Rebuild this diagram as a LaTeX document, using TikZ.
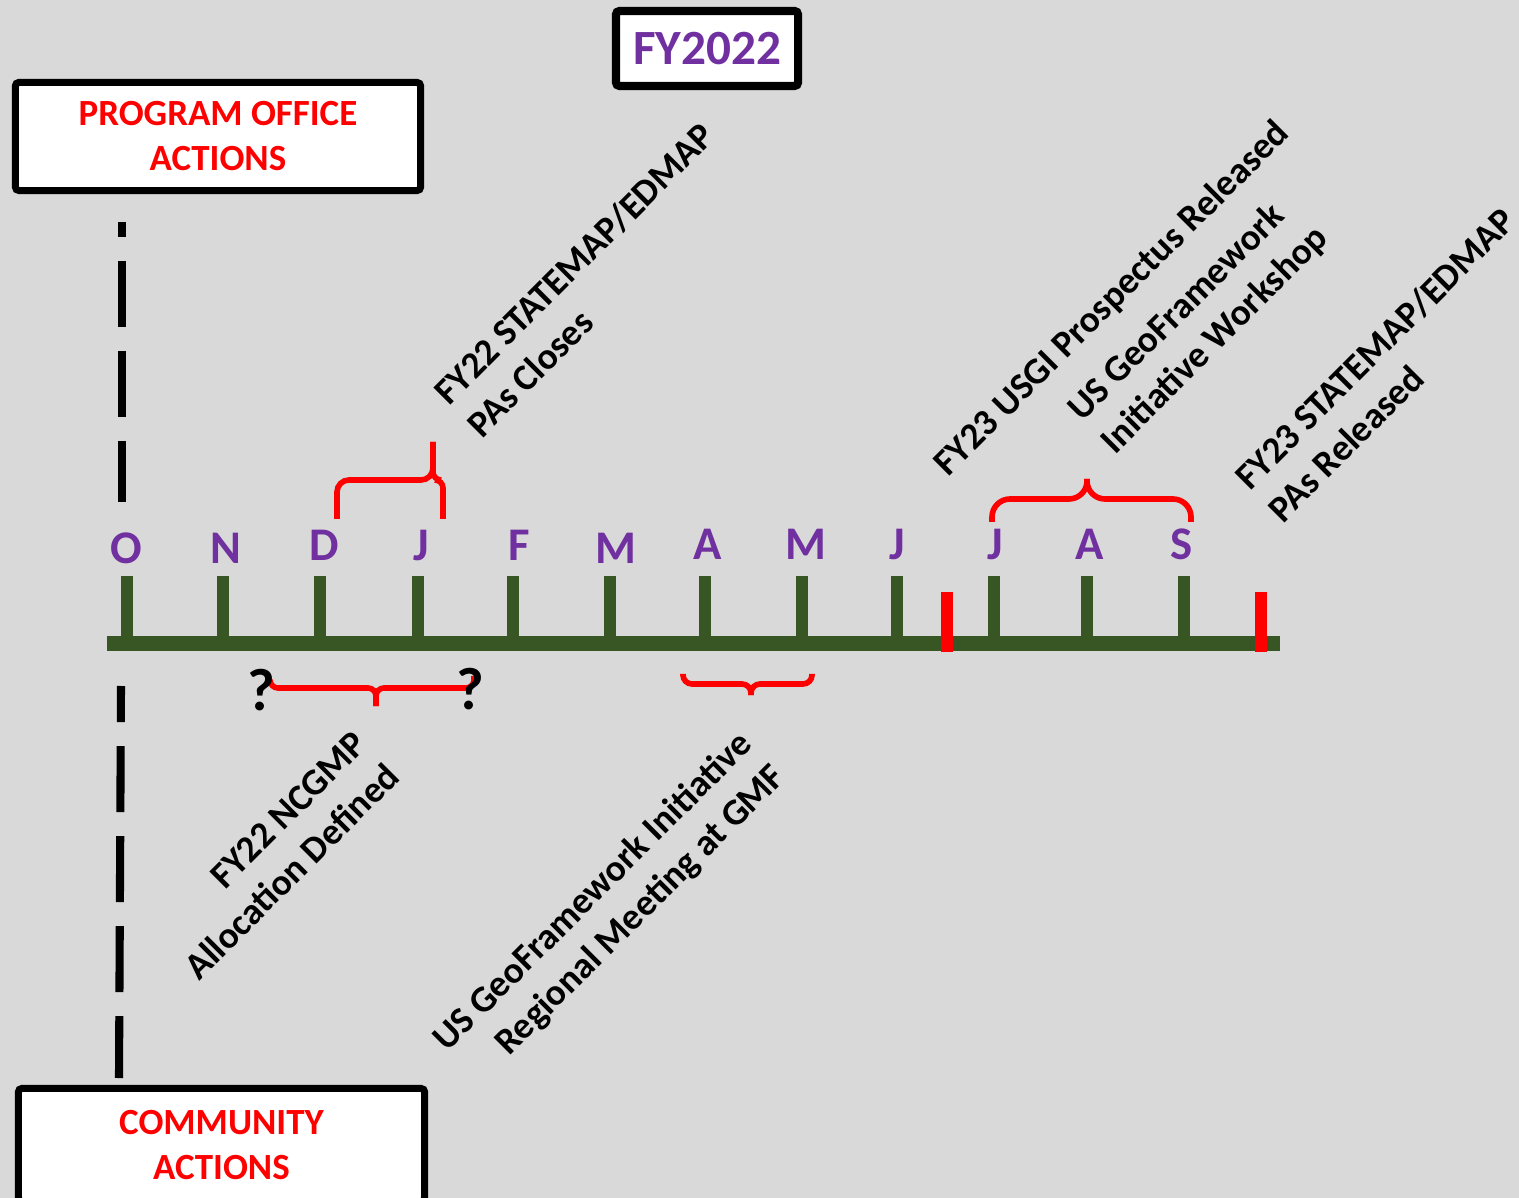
\documentclass[tikz,border=0pt]{standalone}
\usepackage{fontspec}
\setmainfont{Carlito}
\usepackage{tikz}
\usetikzlibrary{positioning}
\definecolor{mBgGrey}{HTML}{D9D9D9}
\definecolor{mDarkGreen}{HTML}{375623}
\definecolor{mPurple}{HTML}{7030A0}
\definecolor{mRed}{HTML}{FF0000}

\tikzset{
  hdrbox/.style={draw=black, line width=2pt, fill=white, rounded corners=1pt,
    align=center, text=mRed, font=\fontsize{10.5}{12.8}\selectfont\bfseries},
  evtext/.style={rotate=45, inner sep=0pt, text=black,
    font=\fontsize{10.6}{13.2}\selectfont\bfseries},
  monthlbl/.style={text=mPurple, inner sep=0pt, anchor=base,
    font=\fontsize{13.3}{16}\selectfont\bfseries},
  redbrace/.style={draw=mRed, line width=1.6pt, rounded corners=#1},
  qmark/.style={inner sep=0pt, font=\fontsize{17}{20}\selectfont\bfseries}
}

\begin{document}
\begin{tikzpicture}[x=0.01cm, y=-0.01cm]
        \fill[mBgGrey] (0,0) rectangle (1519,1198);
        \useasboundingbox (0,0) rectangle (1519,1198);
        \clip (0,0) rectangle (1519,1198);

        % dashed divider
        \coordinate (divTopA) at (122,222);
        \coordinate (divTopB) at (122,502);
        \coordinate (divBotA) at (121,686);
        \coordinate (divBotB) at (119,1078);
        \draw[line width=2.3pt, dash pattern=on 0.66cm off 0.24cm, dash phase=0.51cm] (divTopA) -- (divTopB);
        \draw[line width=2.3pt, dash pattern=on 0.66cm off 0.24cm, dash phase=0.30cm] (divBotA) -- (divBotB);

        % timeline
        \fill[mDarkGreen] (107,636) rectangle (1280,651);
        \foreach \tx/\lx/\ly/\lab [count=\i] in {127/126/564/O, 223/226/564/N,
            320/324/561/D, 418/421/561/J, 513/519/561/F, 610/616/564/M,
            705/708/560/A, 802/806/560/M, 897/897/560/J, 994/995/560/J,
            1087/1090/560/A, 1184/1182/560/S}{
          \fill[mDarkGreen] (\tx-6,576) rectangle (\tx+6,636);
          \node[monthlbl] (m\i) at (\lx,\ly) {\lab};
        }
        \fill[mRed] (941,592) rectangle (953,652);
        \fill[mRed] (1255,592) rectangle (1267,652);

        % braces
        \draw[redbrace=0.12cm] (337,519) -- (337,480) -- (433,480) -- (433,442);
        \draw[redbrace=0.08cm] (443,519) -- (443,480) -- (433,480) -- (433,442);
        \draw[redbrace=0.18cm] (992,522) -- (992,499) -- (1087,499) -- (1087,479);
        \draw[redbrace=0.18cm] (1191,522) -- (1191,499) -- (1087,499) -- (1087,479);
        \draw[redbrace=0.08cm] (270,680) -- (270,688) -- (376,688) -- (376,706);
        \draw[redbrace=0.08cm] (474,676) -- (474,688) -- (376,688) -- (376,706);
        \draw[redbrace=0.09cm] (683,674) -- (683,684) -- (751,684) -- (751,695);
        \draw[redbrace=0.09cm] (812,674) -- (812,684) -- (751,684) -- (751,695);

        \node[qmark] (qLeft)  at (261,690) {?};
        \node[qmark] (qRight) at (470,689) {?};

        % boxes
        \node[draw=black, line width=2.3pt, fill=white, rounded corners=1pt,
              minimum width=1.82cm, minimum height=0.75cm, text=mPurple,
              font=\fontsize{14}{17}\selectfont\bfseries] (fyBox) at (707,48.5) {FY2022};
        \node[hdrbox, minimum width=4.05cm, minimum height=1.08cm] (progOffice) at (218,136.5)
            {PROGRAM OFFICE\\ACTIONS};
        \node[hdrbox, minimum width=4.06cm, minimum height=1.13cm] (community) at (221.5,1145)
            {COMMUNITY\\ACTIONS};

        % events
        \node[evtext, align=left, anchor=west] (pasCloses) at (456,414)
            {FY22 STATEMAP/EDMAP\\PAs Closes};
        \node[evtext, align=right, anchor=east] (ncgmp) at (377,754)
            {FY22 NCGMP\\Allocation Defined};
        \node[evtext, align=right, anchor=east] (gmfMeeting) at (764,755)
            {US GeoFramework Initiative\\Regional Meeting at GMF};
        \node[evtext, anchor=west] (prospectus) at (941,471)
            {FY23 USGI Prospectus Released};
        \node[evtext, align=left, anchor=west] (workshop) at (1091,432)
            {US GeoFramework\\Initiative Workshop};
        \node[evtext, align=left, anchor=west] (pasReleased) at (1257,499)
            {FY23 STATEMAP/EDMAP\\PAs Released};
    \end{tikzpicture}
\end{document}
